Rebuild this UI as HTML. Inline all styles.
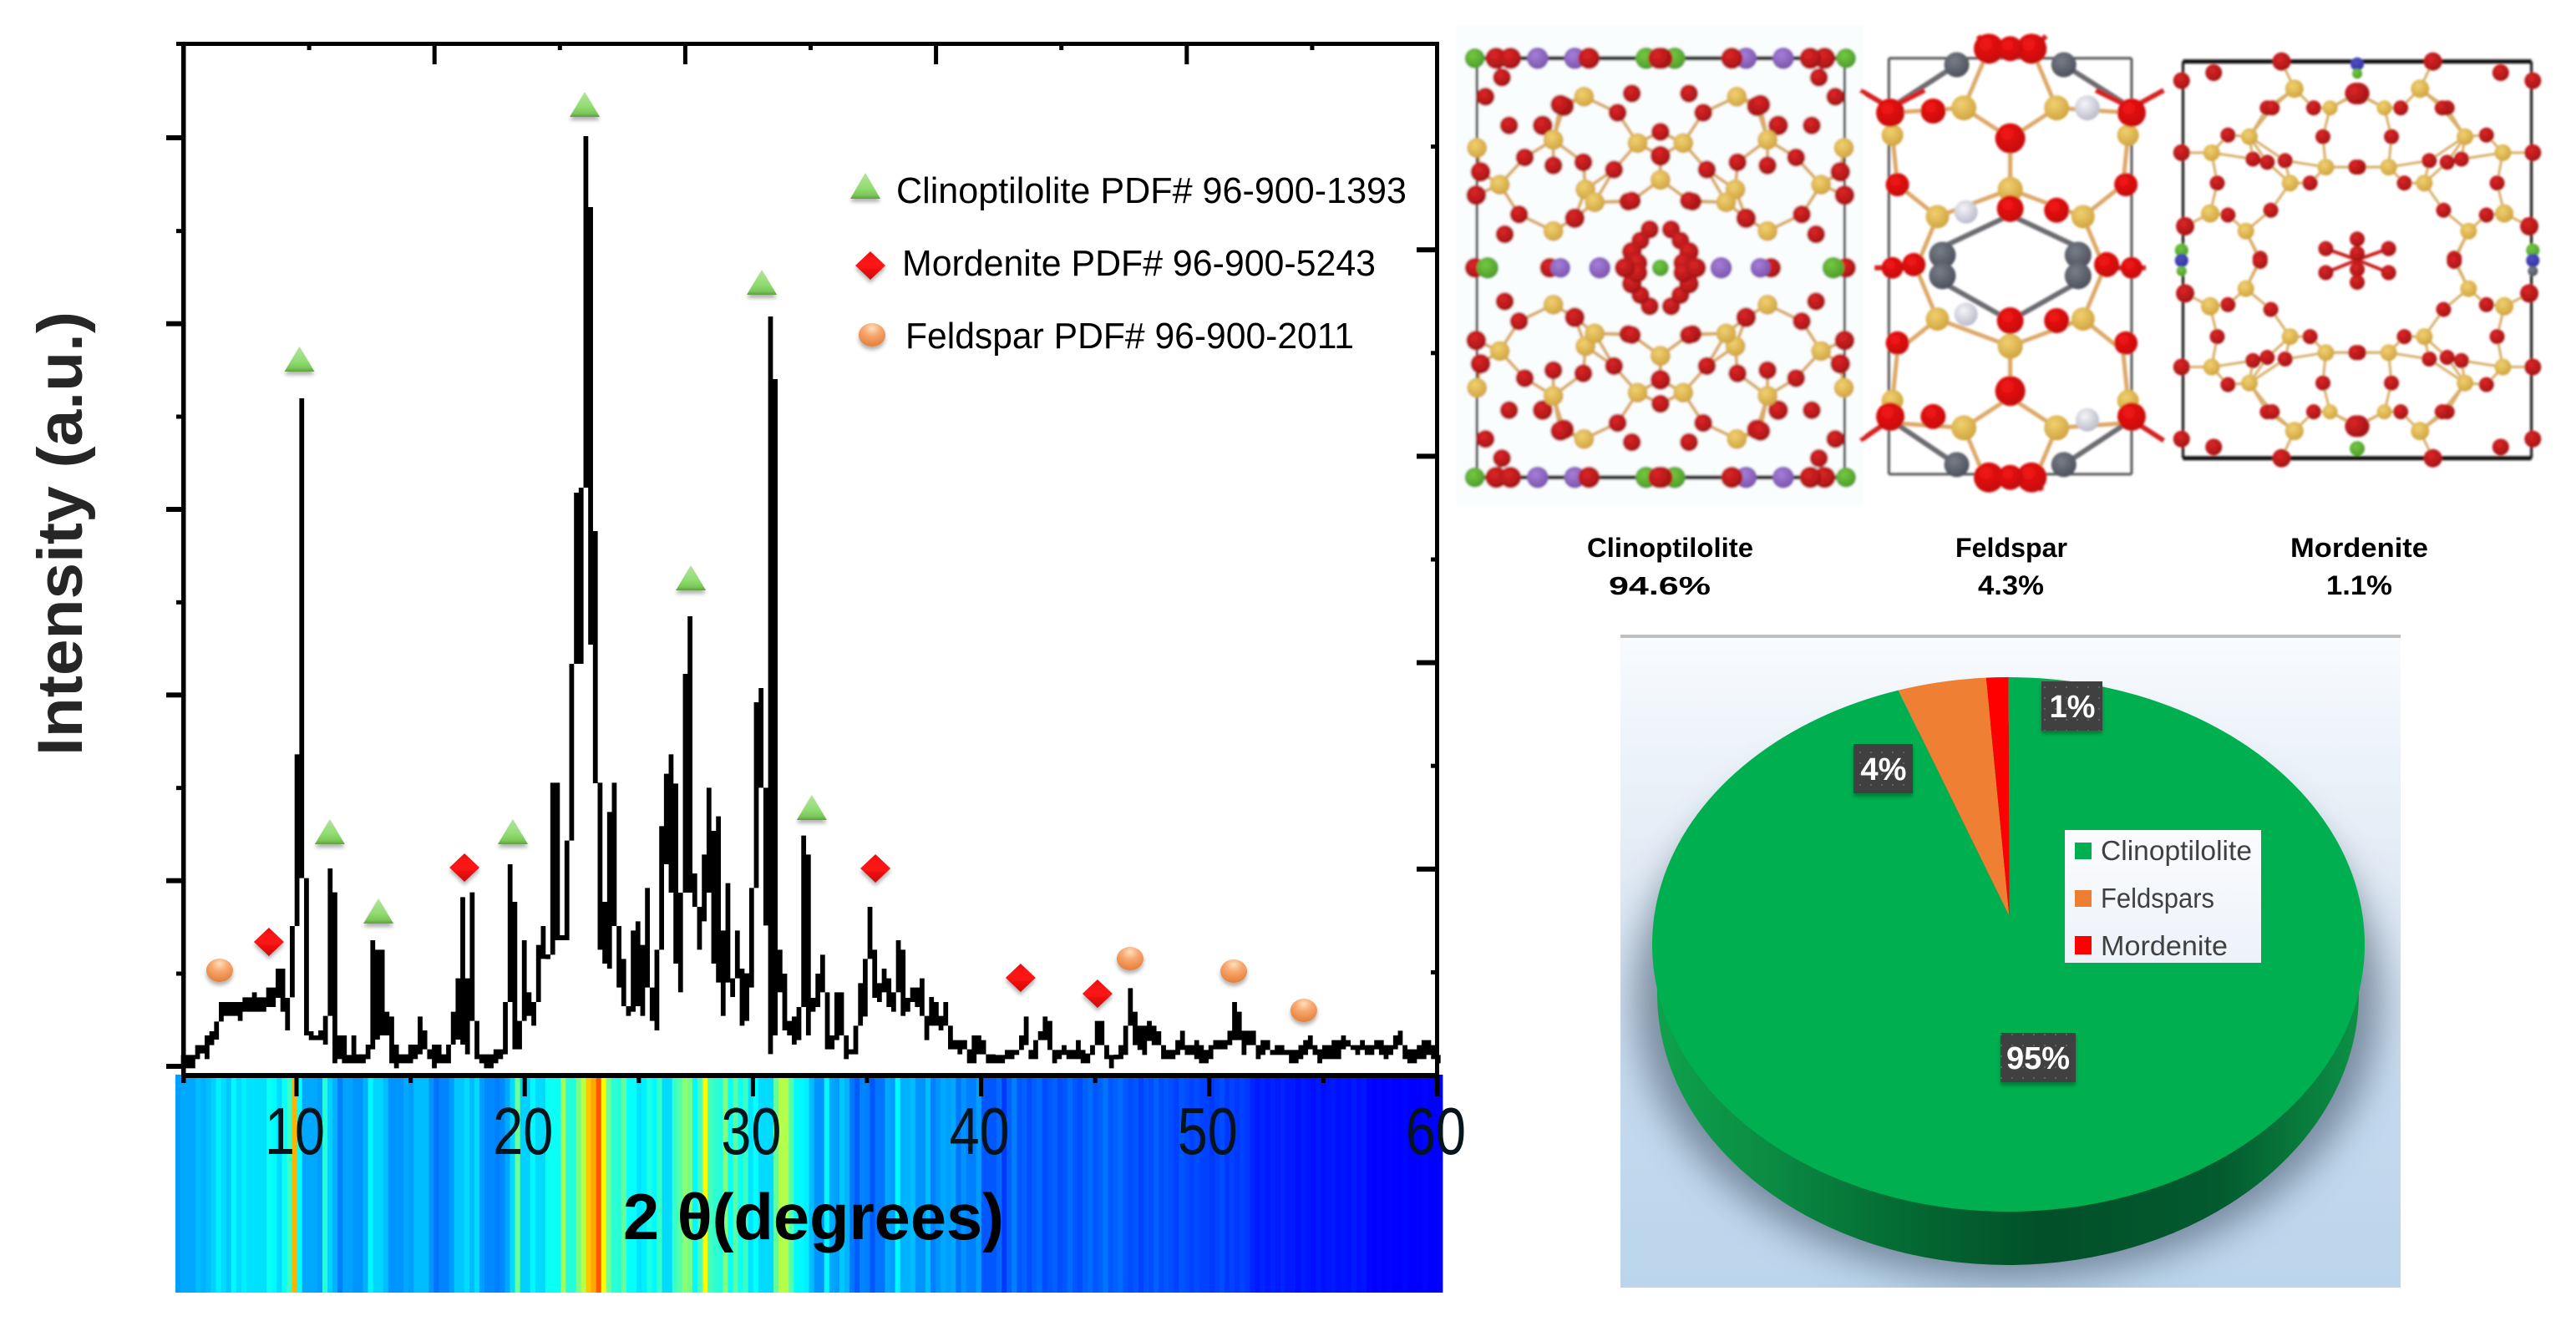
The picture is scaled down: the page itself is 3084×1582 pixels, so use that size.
<!DOCTYPE html>
<html lang="en">
<head>
<meta charset="utf-8">
<title>XRD pattern of zeolite with phase composition</title>
<style>
html,body{margin:0;padding:0;background:#fff;width:3084px;height:1582px;overflow:hidden}
svg{display:block;font-family:"Liberation Sans",Arial,sans-serif}
</style>
</head>
<body>
<svg id="root" xmlns="http://www.w3.org/2000/svg" width="3084" height="1582" viewBox="0 0 3084 1582">
<defs>
  <linearGradient id="triFill" x1="0" y1="0" x2="0" y2="1">
    <stop offset="0" stop-color="#b5e3a0"/><stop offset=".6" stop-color="#90dc70"/><stop offset=".85" stop-color="#7cc85a"/><stop offset="1" stop-color="#5f9f42"/>
  </linearGradient>
  <linearGradient id="diaFill" x1="0" y1="0" x2="0" y2="1">
    <stop offset="0" stop-color="#f01010"/><stop offset=".5" stop-color="#ff1414"/><stop offset="1" stop-color="#c80808"/>
  </linearGradient>
  <radialGradient id="cirFill" cx=".5" cy=".22" r=".8">
    <stop offset="0" stop-color="#fde0bc"/><stop offset=".4" stop-color="#f7a870"/><stop offset="1" stop-color="#e57c35"/>
  </radialGradient>
  <filter id="soft" x="-30%" y="-30%" width="160%" height="170%">
    <feDropShadow dx="0" dy="4" stdDeviation="2.5" flood-color="#000" flood-opacity=".3"/>
  </filter>
  <filter id="pieBlur" x="-20%" y="-20%" width="140%" height="140%"><feGaussianBlur stdDeviation="22"/></filter>
  <filter id="lowRes" x="-5%" y="-5%" width="110%" height="110%"><feGaussianBlur stdDeviation="1.3"/></filter>
  <clipPath id="panelClip"><rect x="1940" y="764" width="934" height="778"/></clipPath>
  <linearGradient id="panelFill" x1="0" y1="0" x2="0" y2="1">
    <stop offset="0" stop-color="#f8fbfe"/><stop offset=".35" stop-color="#e2ebf5"/><stop offset=".7" stop-color="#c4d9ee"/><stop offset="1" stop-color="#bcd5ec"/>
  </linearGradient>
  <linearGradient id="sideFill" x1="0" y1="0" x2="1" y2="0">
    <stop offset="0" stop-color="#0ea24c"/><stop offset=".15" stop-color="#0b8d43"/><stop offset=".35" stop-color="#046a33"/><stop offset=".55" stop-color="#024f29"/><stop offset=".8" stop-color="#035a2e"/><stop offset="1" stop-color="#0c9145"/>
  </linearGradient>
  <linearGradient id="legendFill" x1="0" y1="0" x2="0" y2="1">
    <stop offset="0" stop-color="#fbfcfe"/><stop offset="1" stop-color="#edf2f9"/>
  </linearGradient>
  <pattern id="dots" width="13" height="13" patternUnits="userSpaceOnUse">
    <rect width="13" height="13" fill="#3f3f3f"/><circle cx="4" cy="4" r="1.1" fill="#666"/>
  </pattern>
  <radialGradient id="atom-o" cx=".4" cy=".35" r=".7"><stop offset="0" stop-color="#dc2426"/><stop offset="1" stop-color="#a01414"/></radialGradient>
  <radialGradient id="atom-O" cx=".4" cy=".35" r=".7"><stop offset="0" stop-color="#f41414"/><stop offset="1" stop-color="#c00c0c"/></radialGradient>
  <radialGradient id="atom-si" cx=".4" cy=".35" r=".7"><stop offset="0" stop-color="#f0d070"/><stop offset="1" stop-color="#cfa23c"/></radialGradient>
  <radialGradient id="atom-na" cx=".4" cy=".35" r=".7"><stop offset="0" stop-color="#a47ed8"/><stop offset="1" stop-color="#7a52aa"/></radialGradient>
  <radialGradient id="atom-k" cx=".4" cy=".35" r=".7"><stop offset="0" stop-color="#74c840"/><stop offset="1" stop-color="#4a9a28"/></radialGradient>
  <radialGradient id="atom-ca" cx=".4" cy=".35" r=".7"><stop offset="0" stop-color="#787d88"/><stop offset="1" stop-color="#4a4e58"/></radialGradient>
  <radialGradient id="atom-w" cx=".4" cy=".35" r=".7"><stop offset="0" stop-color="#f4f4f8"/><stop offset="1" stop-color="#b8b8c8"/></radialGradient>
  <radialGradient id="atom-b" cx=".4" cy=".35" r=".7"><stop offset="0" stop-color="#5050c8"/><stop offset="1" stop-color="#30309a"/></radialGradient>
</defs>

<g id="band"></g>

<g id="xrdPlot">
  <path id="curve" fill="#000"></path>
  <g id="axes"></g>
  <g id="tickLabelGroup"></g>
  <g id="markers"></g>
  <text x="746" y="1484" font-size="78" font-weight="700" fill="#000" textLength="456" lengthAdjust="spacingAndGlyphs">2 θ(degrees)</text>
  <text transform="translate(98,905) rotate(-90)" font-size="76" font-weight="700" fill="#262626" textLength="532" lengthAdjust="spacingAndGlyphs">Intensity (a.u.)</text>
</g>

<g>
  <g>
    <polygon points="1036,207 1054,238 1018,238" fill="url(#triFill)" filter="url(#soft)"/>
    <text x="1073" y="243" font-size="44" fill="#000" textLength="611" lengthAdjust="spacingAndGlyphs">Clinoptilolite PDF# 96-900-1393</text>
  </g>
  <g>
    <polygon points="1042,301 1060,318 1042,335 1024,318" fill="url(#diaFill)" filter="url(#soft)"/>
    <text x="1080" y="330" font-size="44" fill="#000" textLength="567" lengthAdjust="spacingAndGlyphs">Mordenite PDF# 96-900-5243</text>
  </g>
  <g>
    <ellipse cx="1044" cy="401" rx="16" ry="14" fill="url(#cirFill)" filter="url(#soft)"/>
    <text x="1084" y="417" font-size="44" fill="#000" textLength="537" lengthAdjust="spacingAndGlyphs">Feldspar PDF# 96-900-2011</text>
  </g>
</g>

<g id="structures" filter="url(#lowRes)">
  <rect x="1743" y="30" width="488" height="575" fill="#fafdfd"/>
</g>

<g fill="#000" font-weight="700" font-size="32">
  <text x="1900" y="667" textLength="199" lengthAdjust="spacingAndGlyphs">Clinoptilolite</text>
  <text x="1926" y="712" textLength="122" lengthAdjust="spacingAndGlyphs" font-size="31">94.6%</text>
  <text x="2341" y="667" textLength="134" lengthAdjust="spacingAndGlyphs">Feldspar</text>
  <text x="2368" y="712" textLength="79" lengthAdjust="spacingAndGlyphs">4.3%</text>
  <text x="2742" y="667" textLength="165" lengthAdjust="spacingAndGlyphs">Mordenite</text>
  <text x="2785" y="712" textLength="79" lengthAdjust="spacingAndGlyphs">1.1%</text>
</g>

<g>
  <rect x="1940" y="764" width="934" height="778" fill="url(#panelFill)"/>
  <rect x="1940" y="760" width="934" height="4" fill="#bfbfbf"/>
  <g clip-path="url(#panelClip)">
    <ellipse cx="2404" cy="1195" rx="446" ry="338" fill="#4f6074" opacity=".66" filter="url(#pieBlur)"/>
  </g>
  <ellipse cx="2404" cy="1190" rx="420" ry="325" fill="url(#sideFill)"/>
  <g id="pie"></g>

  <g>
    <g>
      <rect x="2395" y="1237" width="90" height="59" fill="url(#dots)" filter="url(#soft)"/>
      <text x="2440" y="1280" text-anchor="middle" font-size="38" font-weight="700" fill="#fff">95%</text>
    </g>
    <g>
      <rect x="2219" y="891" width="71" height="59" fill="url(#dots)" filter="url(#soft)"/>
      <text x="2255" y="934" text-anchor="middle" font-size="38" font-weight="700" fill="#fff">4%</text>
    </g>
    <g>
      <rect x="2444" y="816" width="73" height="59" fill="url(#dots)" filter="url(#soft)"/>
      <text x="2481" y="859" text-anchor="middle" font-size="38" font-weight="700" fill="#fff">1%</text>
    </g>
  </g>

  <g>
    <rect x="2472" y="994" width="235" height="159" fill="url(#legendFill)"/>
    <rect x="2484" y="1009" width="20" height="20" fill="#00b050"/>
    <text x="2515" y="1030" font-size="33" fill="#404040" textLength="181" lengthAdjust="spacingAndGlyphs">Clinoptilolite</text>
    <rect x="2484" y="1066" width="20" height="20" fill="#ed7d31"/>
    <text x="2515" y="1087" font-size="33" fill="#404040" textLength="136" lengthAdjust="spacingAndGlyphs">Feldspars</text>
    <rect x="2484" y="1121" width="20" height="22" fill="#ff0000"/>
    <text x="2515" y="1144" font-size="33" fill="#404040" textLength="152" lengthAdjust="spacingAndGlyphs">Mordenite</text>
  </g>
</g>
</svg>

<script>
/* ---------- XRD data (counts, arbitrary units; min/max per 2-theta bin) ---------- */
const intensityHigh = [41,41,41,76,76,111,126,161,231,231,231,231,231,248,248,266,248,248,283,283,351,351,246,504,1121,2400,676,126,111,129,181,711,625,111,111,41,111,43,43,78,453,419,419,196,179,78,43,43,78,78,179,129,61,78,78,43,78,196,316,608,316,625,163,43,43,43,61,61,231,726,591,163,453,266,231,436,504,401,1019,1019,471,811,1446,2061,2079,3342,3087,1923,
1019,591,914,1019,504,386,216,488,521,436,641,283,419,863,1051,1121,1016,624,1410,1617,693,573,761,1001,846,898,488,658,316,488,351,334,641,1308,1359,1001,2694,2469,419,333,163,179,213,829,761,246,333,401,266,111,266,266,111,61,146,299,386,573,419,299,351,316,266,453,419,246,283,283,316,181,249,231,181,231,146,94,94,94,61,111,111,94,43,43,
41,41,59,59,59,111,179,59,94,126,179,163,59,59,76,59,59,94,59,46,76,163,163,76,41,41,76,146,281,196,146,146,163,146,126,76,59,59,94,128,76,76,94,76,59,76,94,94,94,128,231,196,128,128,128,76,94,94,59,76,76,59,59,59,76,94,111,76,61,76,76,94,94,111,94,76,76,94,76,76,94,94,76,76,111,128,76,61,61,76,94,94,76,41];
const intensityLow = [-7,-7,-7,26,46,26,76,96,161,181,181,181,163,196,196,196,196,196,213,213,246,196,129,248,504,676,111,94,94,94,78,181,11,26,11,11,11,11,11,26,61,96,111,111,11,-7,11,11,11,26,43,61,26,-7,11,11,11,78,96,78,43,163,26,11,-7,-7,11,26,43,231,61,61,163,181,146,231,386,386,401,453,453,453,811,1446,1446,2079,1515,1017,
419,369,351,504,283,216,181,196,216,181,283,163,129,419,726,624,369,266,624,624,573,419,521,624,369,301,181,301,249,316,146,163,283,641,1001,506,44,111,266,129,111,78,94,213,111,196,213,266,61,61,94,111,26,43,43,146,179,386,246,231,266,213,196,266,181,196,231,213,181,94,146,146,129,146,61,61,43,61,11,11,43,43,11,11,
11,11,26,26,41,59,76,26,26,94,94,59,11,26,41,26,26,26,11,11,41,76,76,26,-7,26,26,41,146,76,59,41,91,76,76,26,26,26,41,59,41,41,26,11,11,26,61,61,61,76,94,94,41,76,76,26,41,59,41,41,41,41,11,11,26,41,61,41,11,26,26,26,26,61,71,59,41,59,41,41,61,41,26,41,61,76,26,11,11,26,26,41,26,11];

/* 2-theta positions of the peak markers and the counts they sit at */
const clinoptiloliteTheta = [10.13,11.46,13.59,19.48,22.63,27.28,30.39,32.58];
const clinoptiloliteCounts = [2541,843,558,843,3456,1755,2817,930];
const mordeniteTheta = [8.79,17.36,35.37,41.73,45.10];
const mordeniteCounts = [447,714,711,318,261];
const feldsparTheta = [6.63,46.53,51.07,54.14];
const feldsparCounts = [345,387,342,201];

const xTickValues = [10,15,20,25,30,35,40,45,50,55,60];
const xTickLabels = ['10','20','30','40','50','60'];
const yMajorTicks = [0,667,1334,2001,2668,3336];
const yMinorTicks = [333,1000,1667,2334,3001];

/* jet-scale level of each strip in the heat band */
const bandLevels = [.28,.29,.29,.29,.31,.30,.31,.33,.36,.34,.32,.37,.34,.36,.345,.345,.345,.345,.385,.37,.34,.385,.43,.70,.38,.29,.29,.29,.28,.41,.33,.30,.25,.285,.285,.27,.27,.30,.37,.335,.335,.31,.27,.27,.27,.29,.28,.31,.31,.31,.27,.235,.255,.255,.28,.32,.32,.34,.31,.34,.28,.26,.26,.25,.26,.29,.34,.48,.33,.33,.37,.34,.34,.385,.385,.385,.53,.41,.41,.49,.56,.68,.71,.79,.63,
.48,.42,.41,.47,.38,.38,.35,.36,.40,.37,.43,.34,.34,.43,.46,.51,.49,.37,.45,.62,.44,.42,.41,.50,.38,.46,.39,.43,.35,.38,.34,.34,.34,.47,.55,.55,.46,.37,.37,.36,.31,.27,.27,.37,.29,.28,.32,.30,.24,.215,.255,.25,.21,.24,.24,.29,.28,.37,.30,.30,.31,.27,.27,.31,.25,.27,.29,.28,.29,.24,.27,.25,.25,.28,.21,.21,.21,.23,.18,.22,.25,
.21,.22,.20,.22,.23,.20,.21,.22,.20,.21,.23,.21,.20,.22,.23,.21,.22,.24,.21,.22,.23,.21,.20,.21,.19,.21,.20,.22,.20,.21,.20,.19,.21,.20,.19,.20,.19,.19,.18,.19,.20,.18,.19,.18,.19,.18,.16,.15,.16,.15,.16,.15,.16,.15,.15,.14,.15,.145,.14,.15,.14,.145,.15,.14,.145,.14,.15,.14,.145,.13,.125,.13,.125,.13,.125,.125,.13,.125,.125,.125,.13,.125,.125,.125];

/* pie */
const pieCategories = ['Clinoptilolite','Feldspars','Mordenite'];
const pieShares = [95,4,1];
const pieColors = ['#00b050','#ee7f33','#ff0000'];

/* ---------- helpers ---------- */
const NS = 'http://www.w3.org/2000/svg';
const xScale = t => 355 + (t - 10) * 27.32;
const yScale = c => 1277 - c / 3;
const thetaStart = 5.04, thetaStep = 0.2075;
function el(tag, parent){ const e = document.createElementNS(NS, tag); parent.appendChild(e); return e; }
function clamp(v){ return Math.max(0, Math.min(1, v)); }
function jet(t){
  const r = clamp(Math.min(4*t-1.5, -4*t+4.5));
  const g = clamp(Math.min(4*t-0.5, -4*t+3.5));
  const b = clamp(Math.min(4*t+0.5, -4*t+2.5));
  return 'rgb(' + Math.round(r*255) + ',' + Math.round(g*255) + ',' + Math.round(b*255) + ')';
}

/* ---------- heat band ---------- */
(function(){
  const g = document.getElementById('band');
  const x0 = 210, w = 1517, top = 1287, h = 261;
  const sw = w / bandLevels.length;
  bandLevels.forEach(function(level, i){
    const r = el('rect', g);
    
    
    r.setAttribute('x', x0 + i * sw);
    r.setAttribute('y', top);
    r.setAttribute('width', sw + 0.4);
    r.setAttribute('height', h);
    r.setAttribute('fill', jet(level));
  });
})();

/* ---------- xrd curve ---------- */
(function(){
  const w = thetaStep * 27.32;
  const minH = 5.6;
  let d = '';
  intensityHigh.forEach(function(hi, k){
    const lo = intensityLow[k];
    const cx = xScale(thetaStart + thetaStep * k);
    let yt = yScale(hi), yb = yScale(lo);
    if (yb - yt < minH) { const m = (yt + yb) / 2; yt = m - minH/2; yb = m + minH/2; }
    const x = cx - w/2;
    d += 'M' + x.toFixed(2) + ' ' + yt.toFixed(2) + 'H' + (x+w+0.1).toFixed(2) + 'V' + yb.toFixed(2) + 'H' + x.toFixed(2) + 'Z';
  });
  document.getElementById('curve').setAttribute('d', d);
})();

/* ---------- axes ---------- */
(function(){
  const g = document.getElementById('axes');
  function bar(x, y, w, h, name){
    const r = el('rect', g);
    
    
    r.setAttribute('x', x); r.setAttribute('y', y);
    r.setAttribute('width', w); r.setAttribute('height', h);
    r.setAttribute('fill', '#000');
  }
  bar(211, 50, 1512, 5, 'top-axis-line');
  bar(217, 50, 5.5, 1247, 'left-axis-line');
  bar(1718, 50, 5, 1260, 'right-axis-line');
  bar(217, 1285, 1506, 6, 'x-axis-line');
  xTickValues.forEach(function(v, i){
    const major = i % 2 === 0;
    const x = xScale(v);
    bar(x - 2.5, 1288, 5, major ? 25 : 9, major ? 'x-major-tick' : 'x-minor-tick');
  });
  for (let k = 1; k < 10; k++) {
    const major = k % 2 === 0;
    bar(220 + 150.1 * k - 2.5, 52, 5, major ? 25 : 8, major ? 'top-major-tick' : 'top-minor-tick');
    const y = 1288 - 123.6 * k;
    if (major) bar(1696, y - 3, 24, 6, 'right-major-tick');
    else bar(1713, y - 2.5, 7, 5, 'right-minor-tick');
  }
  yMajorTicks.forEach(function(c){ bar(199, yScale(c) - 3, 20, 6, 'y-major-tick'); });
  yMinorTicks.forEach(function(c){ bar(211, yScale(c) - 2.5, 8, 5, 'y-minor-tick'); });

  const lg = document.getElementById('tickLabelGroup');
  xTickLabels.forEach(function(label){
    const t = el('text', lg);
    
    
    t.setAttribute('x', xScale(+label) - 38);
    t.setAttribute('y', 1382);
    t.setAttribute('font-size', '80');
    t.setAttribute('fill', '#06141c');
    t.setAttribute('textLength', '72');
    t.setAttribute('lengthAdjust', 'spacingAndGlyphs');
    t.textContent = label;
  });
})();

/* ---------- peak markers ---------- */
(function(){
  const g = document.getElementById('markers');
  clinoptiloliteTheta.forEach(function(t, i){
    const x = xScale(t), y = yScale(clinoptiloliteCounts[i]);
    const p = el('polygon', g);
    
    
    p.setAttribute('points', x + ',' + (y-15) + ' ' + (x+18) + ',' + (y+15) + ' ' + (x-18) + ',' + (y+15));
    p.setAttribute('fill', 'url(#triFill)');
    p.setAttribute('filter', 'url(#soft)');
  });
  mordeniteTheta.forEach(function(t, i){
    const x = xScale(t), y = yScale(mordeniteCounts[i]);
    const p = el('polygon', g);
    
    
    p.setAttribute('points', x + ',' + (y-17) + ' ' + (x+18) + ',' + y + ' ' + x + ',' + (y+17) + ' ' + (x-18) + ',' + y);
    p.setAttribute('fill', 'url(#diaFill)');
    p.setAttribute('filter', 'url(#soft)');
  });
  feldsparTheta.forEach(function(t, i){
    const e = el('ellipse', g);
    
    
    e.setAttribute('cx', xScale(t));
    e.setAttribute('cy', yScale(feldsparCounts[i]));
    e.setAttribute('rx', 16);
    e.setAttribute('ry', 14);
    e.setAttribute('fill', 'url(#cirFill)');
    e.setAttribute('filter', 'url(#soft)');
  });
})();

/* ---------- pie ---------- */
(function(){
  const g = document.getElementById('pie');
  const cx = 2404.5, cy = 1131, rx = 426.5, ry = 320;
  const apexX = 2405.5, apexY = 1097;
  const total = pieShares.reduce(function(a, b){ return a + b; }, 0);
  function rim(t){ return [cx + rx * Math.sin(t), cy - ry * Math.cos(t)]; }
  let acc = 0.0;
  pieShares.forEach(function(share, i){
    const t0 = acc / total * 2 * Math.PI;
    acc += share;
    const t1 = acc / total * 2 * Math.PI;
    const a = rim(t0), b = rim(t1);
    const large = (t1 - t0) > Math.PI ? 1 : 0;
    const p = el('path', g);
    
    
    p.setAttribute('d', 'M' + apexX + ' ' + apexY + 'L' + a[0] + ' ' + a[1] + 'A' + rx + ' ' + ry + ' 0 ' + large + ' 1 ' + b[0] + ' ' + b[1] + 'Z');
    p.setAttribute('fill', pieColors[i]);
  });
})();

/* ---------- crystal structures ---------- */
(function(){
  const root = document.getElementById('structures');
  const toX = z => 1740 + z / 1.17;
  const toY = z => 20 + z / 2.61;

  function expand(list, cx, cy){
    const out = [];
    list.forEach(function(a){
      out.push(a);
      if (cx !== null) out.push([2*cx - a[0], a[1], a[2], a[3]]);
      if (cy !== null) out.push([a[0], 2*cy - a[1], a[2], a[3]]);
      if (cx !== null && cy !== null) out.push([2*cx - a[0], 2*cy - a[1], a[2], a[3]]);
    });
    return out;
  }
  function line(g, a, b, color, width){
    const l = el('line', g);
    
    
    l.setAttribute('x1', toX(a[0])); l.setAttribute('y1', toY(a[1]));
    l.setAttribute('x2', toX(b[0])); l.setAttribute('y2', toY(b[1]));
    l.setAttribute('stroke', color);
    l.setAttribute('stroke-width', width);
  }
  function bonds(g, atoms, maxD, color, width){
    atoms.forEach(function(a){
      if (a[2] !== 'si') return;
      atoms.forEach(function(b){
        if (b[2] !== 'o' && b[2] !== 'O') return;
        const d = Math.hypot(toX(a[0]) - toX(b[0]), toY(a[1]) - toY(b[1]));
        if (d < maxD) line(g, a, b, color, width);
      });
    });
  }
  function box(g, x0, y0, x1, y1, color, thickH, thickV){
    [[x0,y0,x1,y0,thickH],[x0,y1,x1,y1,thickH],[x0,y0,x0,y1,thickV],[x1,y0,x1,y1,thickV]].forEach(function(s){
      const l = el('line', g);
      
      
      l.setAttribute('x1', s[0]); l.setAttribute('y1', s[1]);
      l.setAttribute('x2', s[2]); l.setAttribute('y2', s[3]);
      l.setAttribute('stroke', color);
      l.setAttribute('stroke-width', s[4]);
    });
  }
  function atoms(g, list){
    list.forEach(function(a){
      const c = el('circle', g);
      
      
      c.setAttribute('cx', toX(a[0]));
      c.setAttribute('cy', toY(a[1]));
      c.setAttribute('r', a[3]);
      c.setAttribute('fill', 'url(#atom-' + a[2] + ')');
    });
  }

  /* clinoptilolite */
  const g1 = el('g', root);
  
  
  const c1 = expand([
    [45,250,'o',11],[68,190,'o',11],[155,280,'o',12],[125,340,'o',12],[78,340,'o',11],[230,300,'o',11],[250,240,'o',11],
    [290,360,'o',11],[290,435,'o',12],[182,455,'o',11],[140,465,'o',11],[100,440,'o',11],[38,485,'o',12],[225,478,'o',11],
    [245,578,'o',11],[92,618,'o',11],[170,630,'o',12],[72,680,'o',11],[32,558,'o',12],[430,275,'o',12],[330,575,'o',11],
    [275,665,'o',11],[305,665,'o',11],[262,700,'o',11],[250,735,'o',12],[258,770,'o',12],[240,785,'o',12],
    [183,250,'si',12],[140,385,'si',12],[33,410,'si',12],[258,395,'si',12],[290,510,'si',12],[65,525,'si',12],[185,540,'si',12],[198,580,'si',12],[140,670,'si',12]
  ], 290, 785);
  bonds(g1, c1, 46, '#d9ab66', 4);
  box(g1, toX(33), toY(130), toX(548), toY(1440), '#2a2a2a', 5, 3);
  const c1b = expand([
    [30,130,'k',12],[60,130,'o',13],[80,130,'o',13],[118,130,'na',13],[170,130,'na',13],[190,130,'o',13],[270,130,'k',13],[292,130,'o',13]
  ], 290, 785);
  const c1c = expand([
    [30,785,'o',12],[48,785,'k',13],[135,785,'o',12],[150,785,'na',12],[205,785,'na',13],[290,785,'k',10]
  ], 290, null);
  atoms(g1, c1b); atoms(g1, c1c); atoms(g1, c1);

  /* feldspar */
  const g2 = el('g', root);
  
  
  box(g2, toX(610), toY(130), toX(950), toY(1430), '#555', 3, 3);
  [[[715,285],[780,380]],[[615,370],[622,525]],[[780,380],[780,540]],[[780,540],[678,625]],[[622,525],[678,625]],[[678,625],[650,775]],[[715,285],[750,100]],[[615,300],[715,285]]].forEach(function(s){
    [[0,0],[1,0],[0,1],[1,1]].forEach(function(m){
      const f = function(p){ return [m[0] ? 1560 - p[0] : p[0], m[1] ? 1570 - p[1] : p[1]]; };
      line(g2, f(s[0]), f(s[1]), '#dca868', 5);
    });
  });
  [[[705,150],[612,285]],[[855,150],[950,285]],[[705,1400],[612,1260]],[[855,1400],[950,1260]],[[685,720],[780,620]],[[875,720],[780,620]],[[685,830],[780,950]],[[875,830],[780,950]]].forEach(function(s){
    line(g2, s[0], s[1], '#6a6a70', 6);
  });
  [[[612,285],[570,230]],[[612,285],[660,230]],[[950,285],[995,230]],[[950,285],[900,230]],[[612,1260],[570,1325]],[[950,1260],[995,1325]],[[735,60],[750,110]],[[830,60],[810,110]],[[750,1440],[745,1480]],[[810,1440],[825,1480]],[[590,785],[650,785]],[[970,785],[910,785]]].forEach(function(s){
    line(g2, s[0], s[1], '#d42020', 6);
  });
  const c2 = [].concat(expand([
    [715,285,'si',15],[615,370,'si',13],[780,540,'si',15],[678,625,'si',14]
  ], 780, 785), [
    [612,300,'O',17],[950,300,'O',17],[612,1250,'O',17],[950,1250,'O',17],
    [672,295,'O',15],[672,1250,'O',15],[780,380,'O',18],[780,1170,'O',18],
    [622,525,'O',14],[942,525,'O',14],[622,1020,'O',14],[942,1020,'O',14],
    [780,600,'O',16],[780,950,'O',16],[845,605,'O',15],[845,950,'O',15],
    [750,100,'O',18],[810,100,'O',18],[780,100,'O',15],[750,1440,'O',18],[810,1440,'O',18],[780,1440,'O',15],
    [615,785,'O',13],[645,775,'O',14],[915,775,'O',15],[950,785,'O',13],
    [888,285,'w',15],[718,610,'w',14],[718,930,'w',14],[888,1260,'w',14],
    [705,150,'ca',15],[855,150,'ca',15],[705,1400,'ca',15],[855,1400,'ca',15],
    [685,745,'ca',16],[685,810,'ca',16],[875,745,'ca',16],[875,810,'ca',16]
  ]);
  atoms(g2, c2);

  /* mordenite */
  const g3 = el('g', root);
  
  
  const c3 = expand([
    [1020,200,'o',10],[1065,175,'o',10],[1160,140,'o',11],[1140,285,'o',9],[1205,285,'o',9],[1085,370,'o',9],[1218,375,'o',9],
    [1268,470,'o',9],[1020,425,'o',10],[1140,455,'o',9],[1165,450,'o',9],[1120,445,'o',9],[1070,520,'o',9],[1200,520,'o',9],
    [1085,620,'o',9],[1145,605,'o',9],[1025,655,'o',11],[1130,755,'o',9],[1268,240,'o',13],[1385,285,'o',9],
    [1178,225,'si',11],[1228,285,'si',9],[1115,375,'si',10],[1062,425,'si',10],[1222,470,'si',10],[1172,520,'si',10],[1060,615,'si',11],[1110,670,'si',10]
  ], 1266, 760);
  bonds(g3, c3, 52, '#d7ad68', 3);
  box(g3, toX(1022), toY(140), toX(1510), toY(1380), '#111', 5, 3);
  atoms(g3, c3);
  [[1266,695],[1222,725],[1310,725],[1266,740],[1266,790],[1222,800],[1310,800],[1266,830]].forEach(function(p){
    line(g3, p, [1266,760], '#c81c1c', 4);
  });
  atoms(g3, [
    [1266,695,'o',9],[1222,725,'o',9],[1310,725,'o',9],[1266,740,'o',9],[1266,790,'o',9],[1222,800,'o',9],[1310,800,'o',9],[1266,830,'o',9],
    [1266,148,'b',8],[1266,178,'k',6],[1266,1350,'k',9],
    [1020,730,'k',8],[1020,762,'b',8],[1020,795,'k',6],[1512,730,'k',8],[1512,762,'b',8],[1512,795,'ca',6]
  ]);
})();
</script>
</body>
</html>
